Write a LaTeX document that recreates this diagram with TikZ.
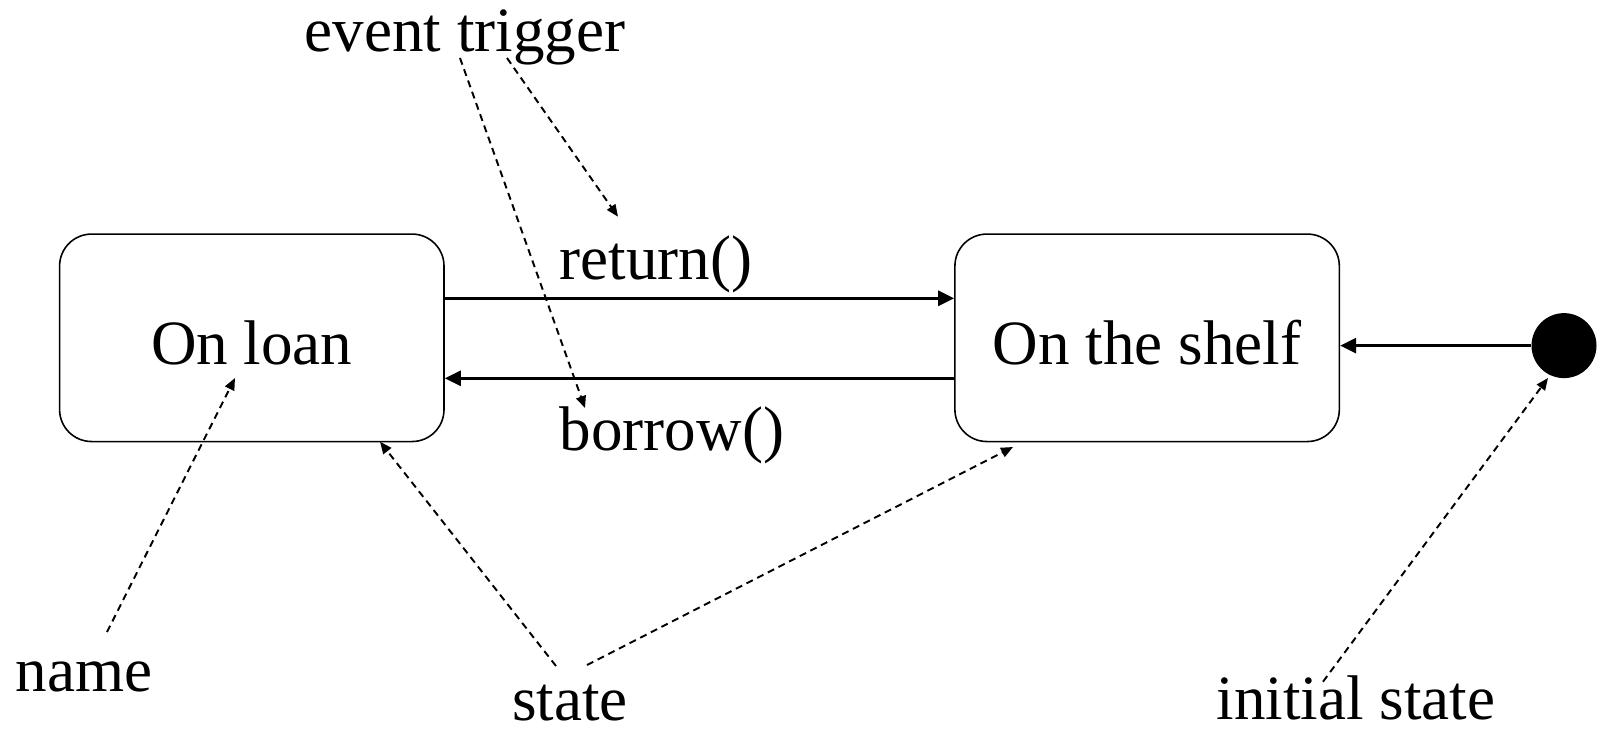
\documentclass[tikz,border=0pt]{standalone}
\usepackage{fontspec}
\setmainfont{Liberation Serif}
\usetikzlibrary{shapes.geometric, arrows.meta}
\tikzstyle{statebox} = [
    rectangle,
    rounded corners=0.64cm,
    minimum width=7.69cm,
    minimum height=4.15cm,
    text height=1.1cm,
    text depth=0.05cm,
    line width=0.9pt,
    draw=black
]
\tikzstyle{startdot} = [
    circle,
    minimum size=1.3cm,
    inner sep=0pt,
    fill=black
]
\tikzstyle{note} = [inner sep=0pt, anchor=base]
\tikzstyle{arrow} = [line width=1.6pt, -{Triangle[length=0.32cm, width=0.3cm]}]
\tikzstyle{pointer} = [
    line width=1.1pt,
    dash pattern=on 4pt off 2.8pt,
    -{Triangle[length=0.24cm, width=0.2cm]}
]

\begin{document}
\begin{tikzpicture}[x=0.02cm, y=-0.02cm, node distance=17.91cm,
    font=\fontsize{35.9}{43}\selectfont]
\useasboundingbox (0,0) rectangle (1603,728);

\node (loan) [statebox] at (251.8,337.8) {On loan};

\node (shelf) [statebox, right of=loan] {On the shelf};

\node (start) [startdot] at (1564,345.6) {};

\node (ret) [note] at (655.9,279) {return()};
\node (bor) [note] at (672,450) {borrow()};

\node (trigger) [note] at (465,51.7) {event trigger};
\node (name) [note] at (83.9,691.7) {name};
\node (statelbl) [note] at (569.9,720) {state};
\node (initlbl) [note] at (1356,719) {initial state};

% pointer ends
\coordinate (trigA) at (507,58);
\coordinate (trigB) at (460,58);
\coordinate (retpt) at (618,216.7);
\coordinate (borpt) at (585,408);
\coordinate (nameA) at (107,632);
\coordinate (namept) at (235,378);
\coordinate (stateA) at (556,666);
\coordinate (stateB) at (587,665);
\coordinate (loanpt) at (380,441.7);
\coordinate (shelfpt) at (1013,447);
\coordinate (initA) at (1323,681.7);
\coordinate (dotpt) at (1548,378);

\draw [arrow] ([yshift=0.79cm]loan.east) -- ([yshift=0.79cm]shelf.west);
\draw [arrow] ([yshift=-0.81cm]shelf.west) -- ([yshift=-0.81cm]loan.east);
\draw [arrow] (start) -- (start -| shelf.east);

\draw [pointer] (trigA) -- (retpt);
\draw [pointer] (trigB) -- (borpt);
\draw [pointer] (nameA) -- (namept);
\draw [pointer] (stateA) -- (loanpt);
\draw [pointer] (stateB) -- (shelfpt);
\draw [pointer] (initA) -- (dotpt);

\end{tikzpicture}
\end{document}
